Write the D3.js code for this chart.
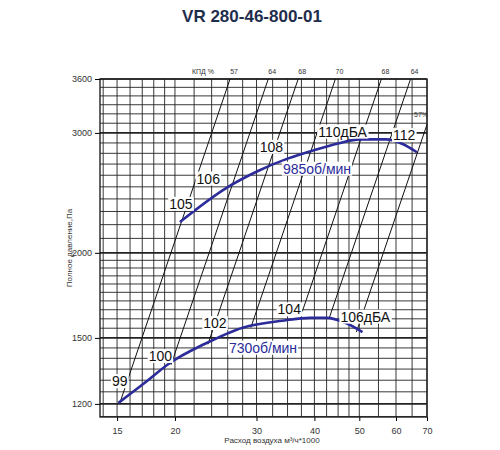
<!DOCTYPE html>
<html><head><meta charset="utf-8">
<script src="https://cdn.jsdelivr.net/npm/d3@7"></script>
<style>body{margin:0;background:#fff;font-family:Arial,"Liberation Sans",sans-serif;}</style>
</head><body><svg id="chart" width="500" height="450"></svg>
<script>
// data
var xTicks = [15, 20, 30, 40, 50, 60, 70];
var yTicks = [1200, 1500, 2000, 3000, 3600];
var xGrid = [14, 15, 16, 17, 18, 19, 20, 22, 24, 26, 28, 30, 32.5, 35, 37.5, 40, 42.5, 45, 47.5, 50, 55, 60, 65, 70];
var yGrid = d3.range(1150, 2000, 50).concat(d3.range(2000, 3601, 100));

var q985 = [20.5, 25.8, 30.3, 35, 39.9, 45, 50.1, 57.2, 62, 66.6];
var p985 = [2220, 2490, 2640, 2750, 2830, 2895, 2935, 2935, 2890, 2810];
var q730 = [15.1, 17.3, 19.5, 23.1, 28.0, 34.1, 39.2, 42.6, 46.5, 50.8];
var p730 = [1204, 1292, 1378, 1468, 1553, 1590, 1605, 1605, 1580, 1530];

// efficiency lines: Q at 3600 Pa, lower end pressure, top label
var effTopQ = [26.3, 31.8, 36.9, 44.4, 55.8, 64.5, 75.6];
var effLowP = [1200, 1370, 1468, 1553, 1640, 1610, 1530];
var effLabels = ["57", "64", "68", "70", "68", "64", "57%"];

var noiseLabels = ["99", "100", "102", "104", "106дБА", "105", "106", "108", "110дБА", "112"];
var noiseQ = [15.2, 18.6, 24.4, 35.3, 51.5, 20.6, 23.6, 32.3, 46, 62.5];
var noiseP = [1290, 1405, 1570, 1645, 1605, 2350, 2560, 2850, 3000, 2965];

var svg = d3.select("#chart");
var x = d3.scaleLog().domain([13.78, 70]).range([100, 427]);
var y = d3.scaleLog().domain([1148, 3600]).range([417, 79]);

// grid
svg.append("g").selectAll("line").data(xGrid).enter().append("line")
    .attr("x1", function (d) { return x(d); }).attr("x2", function (d) { return x(d); })
    .attr("y1", y(3600)).attr("y2", 417)
    .attr("stroke", "#222").attr("stroke-width", 0.9);
svg.append("g").selectAll("line").data(yGrid).enter().append("line")
    .attr("x1", 100).attr("x2", 427)
    .attr("y1", function (d) { return y(d); }).attr("y2", function (d) { return y(d); })
    .attr("stroke", "#222")
    .attr("stroke-width", function (d) { return yTicks.indexOf(d) >= 0 ? 1.6 : 0.9; });
svg.append("rect").attr("x", 100).attr("y", 79).attr("width", 327).attr("height", 338)
    .attr("fill", "none").attr("stroke", "#222").attr("stroke-width", 1.4);

// axes
var xAxis = svg.append("g").attr("transform", "translate(0,417)")
    .call(d3.axisBottom(x).tickValues(xTicks).tickFormat(d3.format("d")).tickSize(4));
var yAxis = svg.append("g").attr("transform", "translate(100,0)")
    .call(d3.axisLeft(y).tickValues(yTicks).tickFormat(d3.format("d")).tickSize(5));
[xAxis, yAxis].forEach(function (a) {
    a.select(".domain").remove();
    a.selectAll("text").attr("fill", "#333").style("font-size", "9px");
});
xAxis.selectAll("text").attr("dy", "1.1em");

// efficiency lines
var eff = effTopQ.map(function (q, i) { return { q: q, low: effLowP[i], label: effLabels[i] }; });
var effG = svg.append("g");
eff.forEach(function (e) {
    var qLow = e.q * Math.sqrt(e.low / 3600);
    var pTop = 3600, qTop = e.q;
    if (qTop > 70) { qTop = 70; pTop = 3600 * Math.pow(70 / e.q, 2); }
    effG.append("line").attr("x1", x(qLow)).attr("y1", y(e.low))
        .attr("x2", x(qTop)).attr("y2", y(pTop)).attr("stroke", "#111").attr("stroke-width", 1);
    var lx = e.label === "57%" ? x(qTop) - 6 : x(qTop) + 4;
    var ly = e.label === "57%" ? y(pTop) - 8 : 74;
    effG.append("text").attr("x", lx).attr("y", ly).attr("font-size", 7).attr("fill", "#333")
        .attr("text-anchor", "middle").text(e.label);
});
svg.append("text").attr("x", 203).attr("y", 74).attr("font-size", 7).attr("fill", "#333")
    .attr("text-anchor", "middle").text("КПД %");

// fan curves
var line = d3.line().x(function (d) { return x(d[0]); }).y(function (d) { return y(d[1]); }).curve(d3.curveMonotoneX);
[[q985, p985], [q730, p730]].forEach(function (c) {
    svg.append("path").datum(d3.zip(c[0], c[1])).attr("d", line)
        .attr("fill", "none").attr("stroke", "#2b2b9a").attr("stroke-width", 2.6);
});

// labels with white boxes
function boxLabel(txt, px, py, size, color) {
    var g = svg.append("g");
    var t = g.append("text").attr("x", px).attr("y", py).attr("font-size", size)
        .attr("fill", color).attr("text-anchor", "middle").attr("dominant-baseline", "middle").text(txt);
    var b = t.node().getBBox();
    g.insert("rect", "text").attr("x", b.x - 1).attr("y", b.y + 1).attr("width", b.width + 2)
        .attr("height", b.height - 2).attr("fill", "#fff");
}
noiseLabels.forEach(function (s, i) { boxLabel(s, x(noiseQ[i]), y(noiseP[i]), 14, "#111"); });
boxLabel("985об/мин", 317, 170, 14, "#2b2b9a");
boxLabel("730об/мин", 263, 349, 14, "#2b2b9a");

// titles
svg.append("text").attr("x", 252).attr("y", 22).attr("text-anchor", "middle")
    .attr("font-size", 17).attr("font-weight", "bold").attr("fill", "#1f2d4d").text("VR 280-46-800-01");
svg.append("text").attr("x", 272).attr("y", 443).attr("text-anchor", "middle")
    .attr("font-size", 8).attr("fill", "#333").text("Расход воздуха  м³/ч*1000");
svg.append("text").attr("transform", "translate(72,248) rotate(-90)").attr("text-anchor", "middle")
    .attr("font-size", 8).attr("fill", "#333").text("Полное давление,Па");
</script></body></html>
